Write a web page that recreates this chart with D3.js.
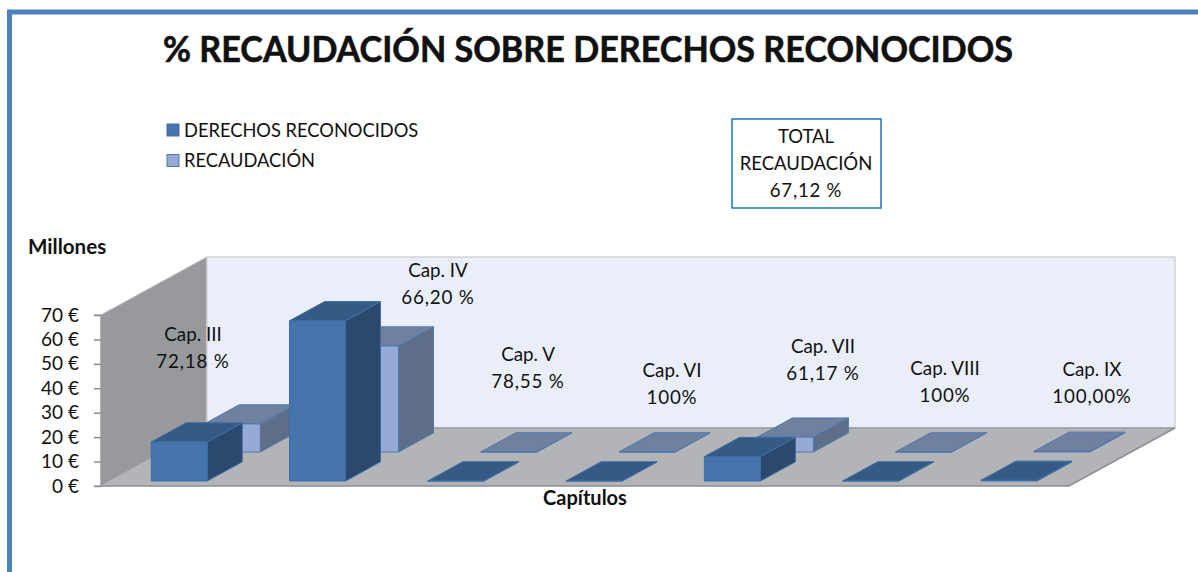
<!DOCTYPE html>
<html>
<head>
<meta charset="utf-8">
<script src="https://cdnjs.cloudflare.com/ajax/libs/d3/7.8.5/d3.min.js"></script>
<style>
  html, body { margin: 0; padding: 0; background: #fff; overflow: hidden; }
  text { font-family: Lato, "Open Sans", sans-serif; fill: #111; }
</style>
</head>
<body>
<svg id="chart" width="1198" height="572"></svg>
<script>
const chapters = ['Cap. III', 'Cap. IV', 'Cap. V', 'Cap. VI', 'Cap. VII', 'Cap. VIII', 'Cap. IX'];
const derechos = [16, 65.6, 0.05, 0.05, 10, 0.05, 0.3];
const recaudacion = [11.5, 43.4, 0.05, 0.05, 6.1, 0.05, 0.3];
const percentLabels = ['72,18 %', '66,20 %', '78,55 %', '100%', '61,17 %', '100%', '100,00%'];
const yTicks = [0, 10, 20, 30, 40, 50, 60, 70];
const legendNames = ['DERECHOS RECONOCIDOS', 'RECAUDACIÓN'];
const totalLines = ['TOTAL', 'RECAUDACIÓN', '67,12 %'];

// Labels are hand placed text boxes in the original, so these are just pixel spots.
const labelSpots = [[193, 334], [438, 270], [528, 354], [672, 370], [823, 346], [945, 368], [1092, 369]];

const svg = d3.select('#chart');

// blue frame, only top and left are visible
svg.append('path')
    .attr('d', 'M9.5,572V12H1198')
    .attr('fill', 'none')
    .attr('stroke', '#4F81BD')
    .attr('stroke-width', 5);

// Lato runs wider than the original face, so squeeze the title to the same span
svg.append('text')
    .attr('x', 163).attr('y', 62)
    .attr('font-size', 37)
    .attr('font-weight', 'bold')
    .attr('stroke', '#111')
    .attr('stroke-width', 0.6)
    .attr('textLength', 850)
    .attr('lengthAdjust', 'spacingAndGlyphs')
    .text('% RECAUDACIÓN SOBRE DERECHOS RECONOCIDOS');

const x = d3.scaleBand()
    .domain(chapters)
    .range([101, 1069])
    .paddingInner(0.595)
    .paddingOuter(0.2975);

const y = d3.scaleLinear().domain([0, 70]).range([486, 315]);

// oblique depth: 0 is the front edge of the floor, 1 the back wall
const depthX = d3.scaleLinear().domain([0, 1]).range([0, 106]);
const depthY = d3.scaleLinear().domain([0, 1]).range([0, -58]);

const pt = (px, v, d) => [px + depthX(d), y(v) + depthY(d)];
const poly = d3.line();
const closed = pts => poly(pts) + 'Z';

const left = x.range()[0], right = x.range()[1];

// walls and floor
svg.append('path')
    .attr('d', closed([pt(left, 0, 0), pt(left, 0, 1), pt(left, 70, 1), pt(left, 70, 0)]))
    .attr('fill', '#97999D')
    .attr('stroke', '#B4B6B9');

svg.append('path')
    .attr('d', closed([pt(left, 0, 1), pt(right, 0, 1), pt(right, 70, 1), pt(left, 70, 1)]))
    .attr('fill', '#EAEEF8')
    .attr('stroke', '#D2D3D6')
    .attr('stroke-width', 1.5);

svg.append('path')
    .attr('d', closed([pt(left, 0, 0), pt(right, 0, 0), pt(right, 0, 1), pt(left, 0, 1)]))
    .attr('fill', '#B2B4B8');

svg.append('path')
    .attr('d', poly([pt(left, 0, 1), pt(right, 0, 1)]))
    .attr('stroke', '#9A9C9F')
    .attr('stroke-width', 1.5);

svg.append('path')
    .attr('d', poly([pt(left, 0, 0), pt(right, 0, 0), pt(right, 0, 1)]))
    .attr('fill', 'none')
    .attr('stroke', '#8C8E90')
    .attr('stroke-width', 1.5);

// the two rows of bars, back row first so the front one covers it
const rows = [
    {values: recaudacion, depth: 0.586, front: '#95ABD6', top: '#6F819F', side: '#5F6E88', edge: '#4E78AE'},
    {values: derechos, depth: 0.086, front: '#4674AC', top: '#345A85', side: '#2C486D', edge: '#3D6DA6'}
];
const barDepth = 0.33;

rows.forEach(row => {
    const g = svg.append('g').selectAll('g')
        .data(chapters.map((c, i) => ({c, v: row.values[i]})))
        .enter().append('g')
        .attr('stroke', row.edge)
        .attr('stroke-linejoin', 'round');

    const d0 = row.depth, d1 = row.depth + barDepth;
    const x0 = d => x(d.c), x1 = d => x(d.c) + x.bandwidth();

    g.append('path')
        .attr('fill', row.side)
        .attr('d', d => closed([pt(x1(d), 0, d0), pt(x1(d), 0, d1), pt(x1(d), d.v, d1), pt(x1(d), d.v, d0)]));
    g.append('path')
        .attr('fill', row.top)
        .attr('d', d => closed([pt(x0(d), d.v, d0), pt(x1(d), d.v, d0), pt(x1(d), d.v, d1), pt(x0(d), d.v, d1)]));
    g.append('path')
        .attr('fill', row.front)
        .attr('d', d => closed([pt(x0(d), 0, d0), pt(x1(d), 0, d0), pt(x1(d), d.v, d0), pt(x0(d), d.v, d0)]));
});

// y axis
const yAxis = svg.append('g')
    .attr('transform', `translate(${left},0)`)
    .call(d3.axisLeft(y).tickValues(yTicks).tickFormat(d => d + ' €').tickSize(7).tickPadding(15));
yAxis.selectAll('line').attr('stroke', '#8C8E90').attr('stroke-width', 1.5);
yAxis.select('.domain').attr('stroke', '#8C8E90').attr('d', `M-7,${y(70)}H0V${y(0)}H-7`);
yAxis.selectAll('text')
    .attr('font-size', 19)
    .attr('font-family', 'Lato, "Open Sans", sans-serif')
    .style('fill', '#111');

svg.append('text')
    .attr('x', 28).attr('y', 254)
    .attr('font-size', 20.6)
    .attr('font-weight', 'bold')
    .text('Millones');

svg.append('text')
    .attr('x', 585).attr('y', 505)
    .attr('text-anchor', 'middle')
    .attr('font-size', 20)
    .attr('font-weight', 'bold')
    .text('Capítulos');

// chapter labels
const labels = svg.append('g').selectAll('text')
    .data(chapters)
    .enter().append('text')
    .attr('text-anchor', 'middle')
    .attr('font-size', 18.8);

labels.append('tspan')
    .attr('x', (d, i) => labelSpots[i][0])
    .attr('y', (d, i) => labelSpots[i][1] + 7)
    .text(d => d);
labels.append('tspan')
    .attr('x', (d, i) => labelSpots[i][0])
    .attr('y', (d, i) => labelSpots[i][1] + 34)
    .attr('letter-spacing', 0.8)
    .text((d, i) => percentLabels[i]);

// legend
const legendColors = [rows[1], rows[0]];
const legend = svg.append('g').selectAll('g')
    .data(legendNames)
    .enter().append('g')
    .attr('transform', (d, i) => `translate(167,${124 + i * 30.5})`);
legend.append('rect')
    .attr('width', 12).attr('height', 12)
    .attr('fill', (d, i) => legendColors[i].front)
    .attr('stroke', (d, i) => legendColors[i].edge);
legend.append('text')
    .attr('x', 17).attr('y', 12.5)
    .attr('font-size', 18.3)
    .text(d => d);

// total box
svg.append('rect')
    .attr('x', 732).attr('y', 119)
    .attr('width', 149).attr('height', 89)
    .attr('fill', '#fff')
    .attr('stroke', '#1C75BC')
    .attr('stroke-width', 1.5);
svg.append('g').selectAll('text')
    .data(totalLines)
    .enter().append('text')
    .attr('x', 806)
    .attr('y', (d, i) => 143 + i * 27)
    .attr('text-anchor', 'middle')
    .attr('font-size', 18.5)
    .attr('letter-spacing', (d, i) => i === 2 ? 0.8 : 0)
    .text(d => d);
</script>
</body>
</html>
